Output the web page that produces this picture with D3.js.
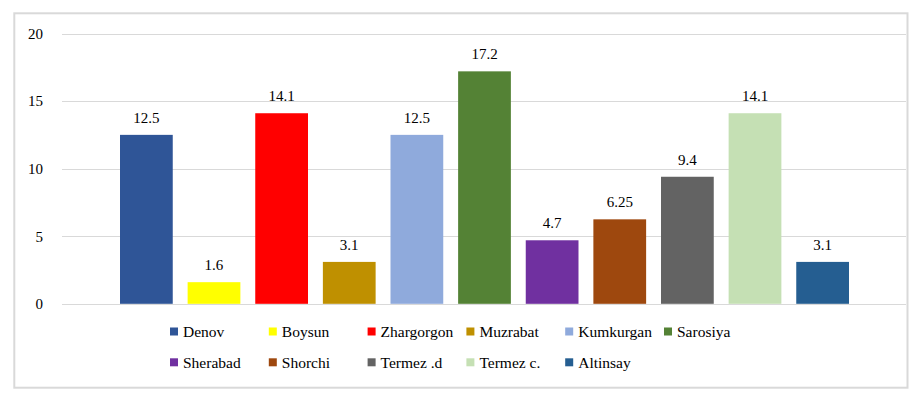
<!DOCTYPE html>
<html>
<head>
<meta charset="utf-8">
<script src="https://cdn.jsdelivr.net/npm/d3@7"></script>
<style>
  body { margin: 0; background: #fff; }
</style>
</head>
<body>
<div id="chart"></div>
<script>
// districts and their values
const districts = ["Denov", "Boysun", "Zhargorgon", "Muzrabat", "Kumkurgan", "Sarosiya",
    "Sherabad", "Shorchi", "Termez .d", "Termez c.", "Altinsay"];
const values = [12.5, 1.6, 14.1, 3.1, 12.5, 17.2, 4.7, 6.25, 9.4, 14.1, 3.1];
const valueLabels = ["12.5", "1.6", "14.1", "3.1", "12.5", "17.2", "4.7", "6.25", "9.4", "14.1", "3.1"];
const colors = ["#2F5597", "#FFFF00", "#FF0000", "#BF9000", "#8FAADC", "#548235",
    "#7030A0", "#9E480E", "#636363", "#C5E0B4", "#255E91"];
const yTicks = [0, 5, 10, 15, 20];

const width = 921, height = 397;
const font = "'Liberation Serif', 'Times New Roman', serif";

const svg = d3.select("#chart").append("svg")
    .attr("width", width)
    .attr("height", height)
    .style("font-family", font);

// outer frame
svg.append("rect")
    .attr("x", 14.3).attr("y", 13.3)
    .attr("width", 893.2).attr("height", 374.4)
    .attr("fill", "none")
    .attr("stroke", "#d9d9d9")
    .attr("stroke-width", 2);

// scales
const y = d3.scaleLinear().domain([0, 20]).range([303.8, 33.5]);
const x = d3.scaleBand().domain(districts).range([120, 849]).paddingInner(0.22).paddingOuter(0);

// gridlines
svg.append("g").selectAll("line")
    .data(yTicks)
    .enter().append("line")
    .attr("x1", 62).attr("x2", 906)
    .attr("y1", d => Math.round(y(d)) + 0.5)
    .attr("y2", d => Math.round(y(d)) + 0.5)
    .attr("stroke", "#d9d9d9")
    .attr("stroke-width", 1);

// y axis labels
const yAxis = d3.axisLeft(y).tickValues(yTicks).tickSize(0).tickPadding(0);
const gy = svg.append("g")
    .attr("transform", "translate(43,0)")
    .call(yAxis)
    .attr("font-family", null)
    .attr("font-size", null);
gy.select(".domain").remove();
gy.selectAll("text")
    .style("font-family", font)
    .style("font-size", "15px")
    .attr("fill", "#000");

// bars
const data = districts.map((d, i) => ({name: d, value: values[i], label: valueLabels[i], color: colors[i]}));

svg.append("g").selectAll("rect")
    .data(data)
    .enter().append("rect")
    .attr("x", d => x(d.name))
    .attr("y", d => y(d.value))
    .attr("width", x.bandwidth())
    .attr("height", d => y(0) - y(d.value))
    .attr("fill", d => d.color);

// value labels
svg.append("g").selectAll("text")
    .data(data)
    .enter().append("text")
    .attr("x", d => x(d.name) + x.bandwidth() / 2)
    .attr("y", d => y(d.value) - 12)
    .attr("text-anchor", "middle")
    .style("font-family", font)
    .style("font-size", "15px")
    .attr("fill", "#000")
    .text(d => d.label);

// legend, 6 per row
const legend = svg.append("g").selectAll("g")
    .data(data)
    .enter().append("g")
    .attr("transform", (d, i) => "translate(" + (170 + (i % 6) * 98.8) + "," + (i < 6 ? 331.5 : 362.3) + ")");

legend.append("rect")
    .attr("x", 0).attr("y", -4)
    .attr("width", 8).attr("height", 8)
    .attr("fill", d => d.color);

legend.append("text")
    .attr("x", 13)
    .attr("y", 0)
    .attr("dy", "0.35em")
    .style("font-family", font)
    .style("font-size", "15.5px")
    .attr("fill", "#000")
    .text(d => d.name);
</script>
</body>
</html>
